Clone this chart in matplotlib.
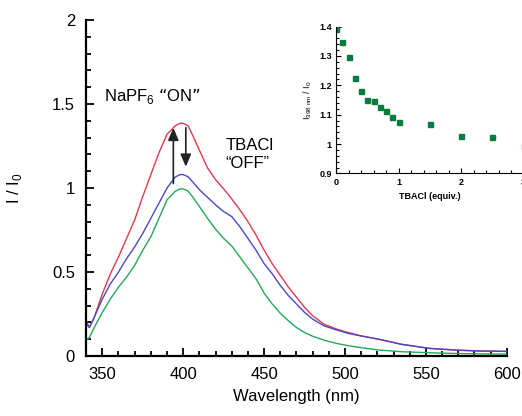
import matplotlib
matplotlib.use('Agg')
import matplotlib.pyplot as plt
from matplotlib.ticker import MultipleLocator

plt.rcParams['font.family'] = ['Liberation Sans', 'DejaVu Sans']

# emission spectra (I / I0)
wavelength = [340, 342, 345, 350, 355, 360, 365, 370, 375, 380, 385, 390, 395, 398,
              400, 403, 406, 410, 415, 420, 425, 430, 435, 440, 445, 450, 455, 460,
              465, 470, 475, 480, 487, 495, 502, 510, 521, 535, 552, 570, 585, 600]
napf6_on = [0.19, 0.17, 0.23, 0.37, 0.49, 0.59, 0.70, 0.81, 0.95, 1.08, 1.21, 1.32, 1.37, 1.385,
            1.385, 1.37, 1.31, 1.225, 1.12, 1.05, 0.995, 0.935, 0.87, 0.80, 0.72, 0.63, 0.55, 0.48,
            0.41, 0.35, 0.29, 0.24, 0.19, 0.16, 0.14, 0.12, 0.10, 0.07, 0.046, 0.035, 0.03, 0.028]
tbacl_off = [0.21, 0.17, 0.23, 0.34, 0.43, 0.50, 0.58, 0.65, 0.73, 0.82, 0.91, 1.00, 1.065, 1.08,
             1.08, 1.067, 1.035, 0.99, 0.945, 0.90, 0.86, 0.83, 0.77, 0.70, 0.63, 0.55, 0.49, 0.42,
             0.36, 0.31, 0.26, 0.22, 0.18, 0.155, 0.135, 0.12, 0.10, 0.07, 0.046, 0.035, 0.03, 0.028]
free_host = [0.095, 0.11, 0.17, 0.26, 0.34, 0.41, 0.47, 0.54, 0.63, 0.71, 0.82, 0.93, 0.98, 0.995,
             0.995, 0.982, 0.945, 0.89, 0.82, 0.755, 0.70, 0.655, 0.59, 0.525, 0.46, 0.375, 0.31, 0.255,
             0.21, 0.17, 0.14, 0.118, 0.095, 0.075, 0.062, 0.05, 0.036, 0.026, 0.02, 0.015, 0.013, 0.012]

# inset titration: I(398 nm)/I0 vs TBACl equivalents
tbacl_equiv = [0, 0.1, 0.2, 0.3, 0.4, 0.5, 0.6, 0.7, 0.8, 0.9, 1.0, 1.5, 2.0, 2.5, 3.0]
i398_ratio = [1.392, 1.349, 1.298, 1.224, 1.181, 1.151, 1.148, 1.127, 1.114, 1.093,
              1.075, 1.069, 1.026, 1.025, 0.995]

# arrows: (x, y_start, y_end)
arrow_on = (393.9, 1.01, 1.375)
arrow_off = (401.6, 1.375, 1.11)

fig = plt.figure(figsize=(5.22, 4.16), dpi=100)
ax = fig.add_axes([0.165, 0.144, 0.806, 0.808])

ax.plot(wavelength, napf6_on, color='#e43a4e', lw=1.0)
ax.plot(wavelength, tbacl_off, color='#4a48c4', lw=1.0)
ax.plot(wavelength, free_host, color='#26a85a', lw=1.0)

ax.set_xlim(340, 600)
ax.set_ylim(0, 2)
ax.xaxis.set_major_locator(MultipleLocator(50))
ax.xaxis.set_minor_locator(MultipleLocator(10))
ax.yaxis.set_major_locator(MultipleLocator(0.5))
ax.yaxis.set_minor_locator(MultipleLocator(0.1))
ax.set_yticks([0, 0.5, 1, 1.5, 2])
ax.set_yticklabels(['0', '0.5', '1', '1.5', '2'])
ax.tick_params(which='both', direction='in', labelsize=12, width=1.3)
ax.tick_params(which='major', length=6, pad=8)
ax.tick_params(which='minor', length=3.5)
for s in ['top', 'right']:
    ax.spines[s].set_visible(False)
for s in ['left', 'bottom']:
    ax.spines[s].set_linewidth(1.6)
ax.set_xlabel('Wavelength (nm)', fontsize=12, labelpad=5)
ax.set_ylabel(r'I / I$_\mathregular{0}$', fontsize=12, labelpad=20)

ax.annotate('', xy=(arrow_on[0], arrow_on[2]), xytext=(arrow_on[0], arrow_on[1]),
            arrowprops=dict(arrowstyle='-|>,head_width=0.32,head_length=0.75', color='#222', lw=1.2))
ax.annotate('', xy=(arrow_off[0], arrow_off[2]), xytext=(arrow_off[0], arrow_off[1]),
            arrowprops=dict(arrowstyle='-|>,head_width=0.32,head_length=0.75', color='#222', lw=1.2))
ax.text(381, 1.55, r'NaPF$_\mathregular{6}$ “ON”', fontsize=12, ha='center', va='center')
ax.text(426, 1.2, 'TBACl\n“OFF”', fontsize=12, ha='left', va='center', linespacing=1.3)

ins = fig.add_axes([0.644, 0.583, 0.359, 0.353], facecolor='none')
ins.plot(tbacl_equiv, i398_ratio, 's', color='#0b7a3e', ms=3.6, mec='#0b7a3e')
ins.set_xlim(0, 3)
ins.set_ylim(0.9, 1.4)
ins.xaxis.set_major_locator(MultipleLocator(1))
ins.xaxis.set_minor_locator(MultipleLocator(0.2))
ins.yaxis.set_major_locator(MultipleLocator(0.1))
ins.yaxis.set_minor_locator(MultipleLocator(0.02))
ins.set_yticks([0.9, 1.0, 1.1, 1.2, 1.3, 1.4])
ins.set_yticklabels(['0.9', '1', '1.1', '1.2', '1.3', '1.4'])
ins.tick_params(which='both', direction='in', labelsize=6.5, width=0.8)
ins.tick_params(which='major', length=3.5, pad=3)
ins.tick_params(which='minor', length=2)
for lab in ins.get_xticklabels() + ins.get_yticklabels():
    lab.set_fontweight('bold')
for s in ['top', 'right']:
    ins.spines[s].set_visible(False)
ins.set_xlabel('TBACl (equiv.)', fontsize=6.5, fontweight='bold', labelpad=4)
ins.set_ylabel(r'I$_\mathregular{398\ nm}$ / I$_\mathregular{0}$', fontsize=6.5, labelpad=4)

fig.savefig('out.png', dpi=100)
